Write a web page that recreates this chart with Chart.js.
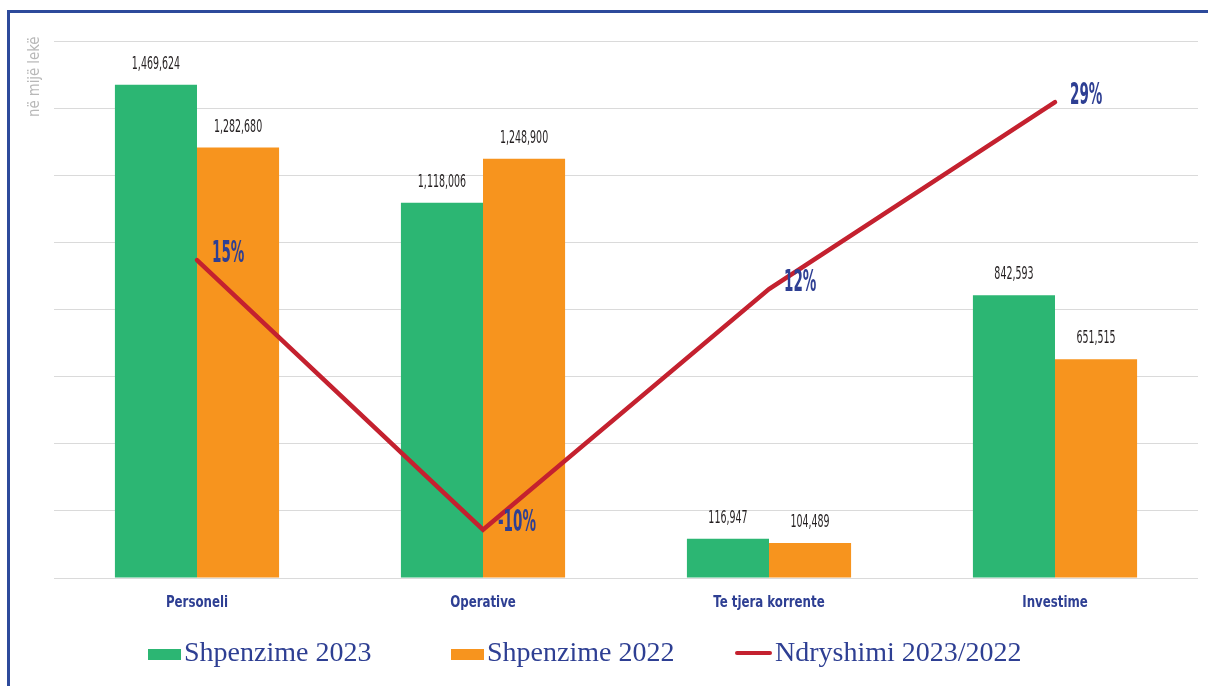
<!DOCTYPE html>
<html>
<head>
<meta charset="utf-8">
<script src="https://cdn.jsdelivr.net/npm/chart.js@4.4.0/dist/chart.umd.min.js"></script>
<style>
html, body { margin: 0; padding: 0; background: #fff; }
#wrap { position: relative; width: 1208px; height: 686px; overflow: hidden; }
#frame { position: absolute; left: 7px; top: 10px; right: -5px; bottom: -5px;
         border-top: 3px solid #2d4a9b; border-left: 3px solid #2d4a9b; }
#chart { position: absolute; left: 0; top: 0; }
.item { position: absolute; top: 638px; height: 28px; line-height: 28px; display: flex; align-items: center;
        font-family: "Liberation Serif", "DejaVu Serif", serif; font-size: 28px; color: #2e3f93; white-space: nowrap; }
.swatch { position: relative; top: 2px; margin-right: 3px; }
</style>
</head>
<body>
<div id="wrap">
  <div id="frame"></div>
  <canvas id="chart" width="1208" height="686"></canvas>
</div>
<script>
// categories and values (thousand lek)
const categories = ['Personeli', 'Operative', 'Te tjera korrente', 'Investime'];
const spend2023 = [1469624, 1118006, 116947, 842593];
const spend2022 = [1282680, 1248900, 104489, 651515];
const changePct = [14.6, -10.5, 11.9, 29.3];   // change 2023/2022 in %
const seriesNames = ['Shpenzime 2023', 'Shpenzime 2022', 'Ndryshimi 2023/2022'];
const axisNote = 'në mijë lekë';

const green = '#2cb673';
const orange = '#f7941e';
const red = '#c4212f';
const navy = '#2e3f93';
const narrow = '"DejaVu Sans Condensed", "Liberation Sans Narrow", sans-serif';

// draw text squeezed horizontally to mimic the condensed face of the original
function drawSqueezed(ctx, text, x, y, sx, align) {
    ctx.save();
    ctx.translate(x, y);
    ctx.scale(sx, 1);
    ctx.textAlign = align;
    ctx.fillText(text, 0, 0);
    ctx.restore();
}

const valueLabels = {
    id: 'valueLabels',
    afterDatasetsDraw(chart) {
        const ctx = chart.ctx;
        chart.data.datasets.forEach((ds, i) => {
            const meta = chart.getDatasetMeta(i);
            meta.data.forEach((el, j) => {
                const v = ds.data[j];
                if (ds.type === 'line') {
                    ctx.font = 'bold 30px ' + narrow;
                    ctx.fillStyle = navy;
                    ctx.textBaseline = 'middle';
                    drawSqueezed(ctx, Math.round(v) + '%', el.x + 15, el.y - 6, 0.5, 'left');
                } else {
                    ctx.font = '17px ' + narrow;
                    ctx.fillStyle = '#231f20';
                    ctx.textBaseline = 'alphabetic';
                    drawSqueezed(ctx, v.toLocaleString('en-US'), el.x, el.y - 16, 0.62, 'center');
                }
            });
        });
        // category names under the axis
        const x = chart.scales.x;
        ctx.font = 'bold 16px ' + narrow;
        ctx.fillStyle = navy;
        ctx.textBaseline = 'middle';
        chart.data.labels.forEach((lab, i) => {
            drawSqueezed(ctx, lab, x.getPixelForTick(i), 603, 0.82, 'center');
        });
    }
};

const axisNotePlugin = {
    id: 'axisNote',
    afterDraw(chart) {
        const ctx = chart.ctx;
        ctx.save();
        ctx.translate(35, 117);
        ctx.rotate(-Math.PI / 2);
        ctx.font = '16px ' + narrow;
        ctx.fillStyle = '#b8b8b8';
        ctx.textAlign = 'left';
        ctx.textBaseline = 'middle';
        ctx.scale(0.92, 1);
        ctx.fillText(axisNote, 0, 0);
        ctx.restore();
    }
};

const chart = new Chart(document.getElementById('chart'), {
    type: 'bar',
    data: {
        labels: categories,
        datasets: [
            { type: 'line', label: seriesNames[2], data: changePct, yAxisID: 'y2', order: 0,
              borderColor: red, borderWidth: 4.5, borderCapStyle: 'round', pointRadius: 0, tension: 0, fill: false },
            { type: 'bar', label: seriesNames[0], data: spend2023, backgroundColor: green, order: 1,
              categoryPercentage: 0.574, barPercentage: 1.0, borderWidth: 0 },
            { type: 'bar', label: seriesNames[1], data: spend2022, backgroundColor: orange, order: 1,
              categoryPercentage: 0.574, barPercentage: 1.0, borderWidth: 0 }
        ]
    },
    options: {
        responsive: false,
        animation: false,
        devicePixelRatio: 1,
        layout: { padding: { top: 41, left: 54, right: 10, bottom: 68 } },
        plugins: { legend: { display: false }, tooltip: { enabled: false } },
        scales: {
            x: {
                grid: { display: false, drawTicks: false },
                border: { display: false },
                ticks: { color: 'rgba(0,0,0,0)', padding: 15, font: { family: narrow, size: 16, weight: 'bold' } },
                afterFit(axis) { axis.height = 40; }
            },
            y: {
                min: 0, max: 1600000,
                ticks: { display: false, stepSize: 200000 },
                grid: { color: '#dadada', lineWidth: 1, drawTicks: false },
                border: { display: false },
                afterFit(axis) { axis.width = 0; }
            },
            y2: { display: false, min: -15, max: 35, position: 'right' }
        }
    },
    plugins: [valueLabels, axisNotePlugin]
});

// html legend, in the order shown in the original
const legendLeft = [148, 451, 735];
[1, 2, 0].forEach((dsIndex, k) => {
    const ds = chart.data.datasets[dsIndex];
    const item = document.createElement('div');
    item.className = 'item';
    item.style.left = legendLeft[k] + 'px';
    const sw = document.createElement('span');
    sw.className = 'swatch';
    if (ds.type === 'line') {
        sw.style.width = '37px'; sw.style.height = '4px';
        sw.style.background = ds.borderColor; sw.style.borderRadius = '2px';
        sw.style.top = '1px';
    } else {
        sw.style.width = '33px'; sw.style.height = '11px';
        sw.style.background = ds.backgroundColor;
    }
    item.appendChild(sw);
    item.appendChild(document.createTextNode(ds.label));
    document.getElementById('wrap').appendChild(item);
});
</script>
</body>
</html>
